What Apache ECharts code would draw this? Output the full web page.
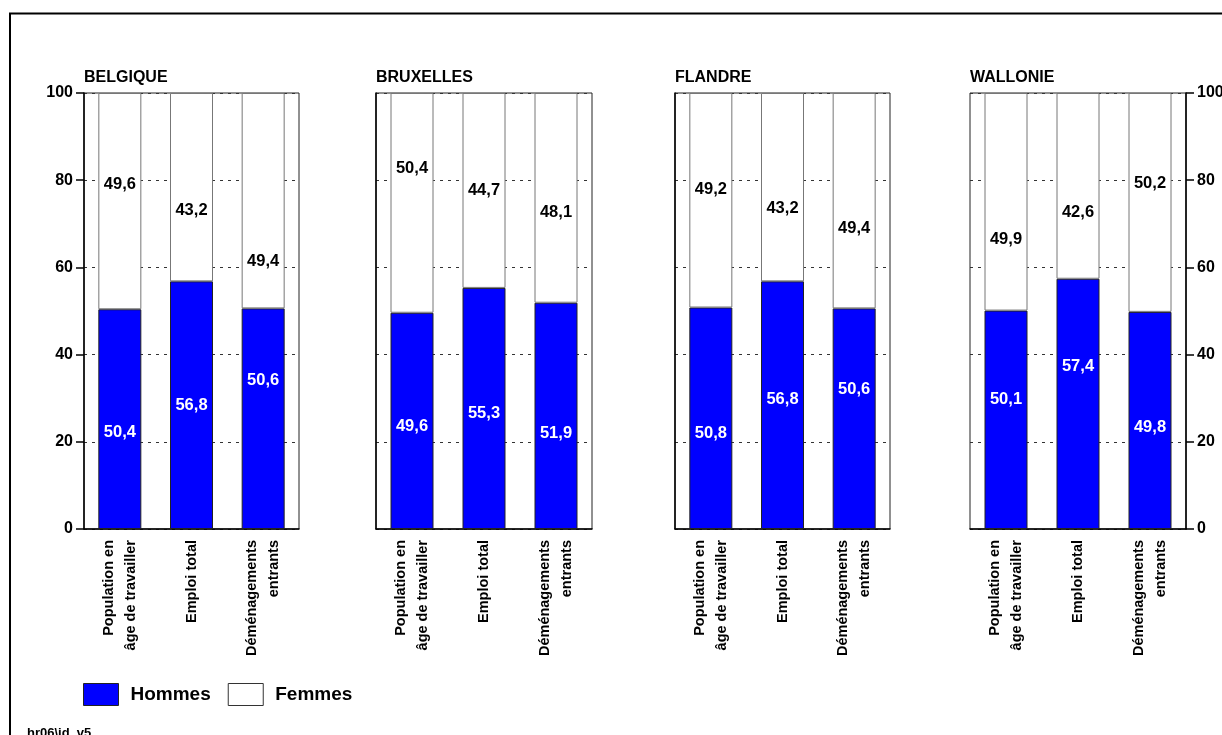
<!DOCTYPE html>
<html>
<head>
<meta charset="utf-8">
<script src="https://cdn.jsdelivr.net/npm/echarts@6/dist/echarts.min.js"></script>
<style>
  html, body { margin: 0; padding: 0; background: #fff; }
  #chart { width: 1222px; height: 735px; }
</style>
</head>
<body>
<div id="chart"></div>
<script>
// Parts des hommes et des femmes (%), par région
const regions = ['BELGIQUE', 'BRUXELLES', 'FLANDRE', 'WALLONIE'];
const categories = ['Population en\nâge de travailler', 'Emploi total', 'Déménagements\nentrants'];

const hommesBelgique = [50.4, 56.8, 50.6];
const femmesBelgique = [49.6, 43.2, 49.4];
const hommesBruxelles = [49.6, 55.3, 51.9];
const femmesBruxelles = [50.4, 44.7, 48.1];
const hommesFlandre = [50.8, 56.8, 50.6];
const femmesFlandre = [49.2, 43.2, 49.4];
const hommesWallonie = [50.1, 57.4, 49.8];
const femmesWallonie = [49.9, 42.6, 50.2];

const yTicks = [0, 20, 40, 60, 80, 100];

// Height (in axis units) at which each value label sits inside its bar
const labelLevelHommes = [[22.1, 28.3, 34.0], [23.6, 26.6, 21.9], [21.8, 29.8, 32.1], [29.7, 37.2, 23.2]];
const labelLevelFemmes = [[79.1, 73.0, 61.3], [82.7, 77.6, 72.7], [77.9, 73.6, 69.0], [66.5, 72.6, 79.3]];

const hommesByRegion = [hommesBelgique, hommesBruxelles, hommesFlandre, hommesWallonie];
const femmesByRegion = [femmesBelgique, femmesBruxelles, femmesFlandre, femmesWallonie];

const FONT = '"Liberation Sans", Arial, sans-serif';
const BLUE = '#0000ff';

// Panel boxes (pixels)
const panelLeft = [84, 376, 675, 970];
const panelWidth = [215, 216, 215, 216];
const panelTop = 93;
const panelHeight = 436;

const fmt = v => v.toFixed(1).replace('.', ',');

const grids = [], xAxes = [], yAxes = [], series = [], titles = [];

regions.forEach((name, p) => {
  grids.push({
    left: panelLeft[p], top: panelTop, width: panelWidth[p], height: panelHeight,
    containLabel: false, outerBoundsMode: 'none',
    show: true, borderColor: '#222', borderWidth: 1, backgroundColor: 'transparent'
  });
  titles.push({
    text: name, left: panelLeft[p], top: 70, padding: 0,
    textStyle: { fontFamily: FONT, fontSize: 16, fontWeight: 'bold', color: '#000' }
  });
  xAxes.push({
    type: 'category', gridIndex: p, data: categories,
    axisLine: { show: true, lineStyle: { color: '#000', width: 1.5 } },
    axisTick: { show: false },
    axisLabel: {
      interval: 0, rotate: 90, margin: 11,
      fontFamily: FONT, fontSize: 14.5, fontWeight: 'bold', color: '#000', lineHeight: 22,
      padding: [0, 0, 0, 0]
    }
  });
  const isLeft = p === 0, isRight = p === regions.length - 1;
  yAxes.push({
    type: 'value', gridIndex: p, min: 0, max: 100, interval: 20,
    position: isRight ? 'right' : 'left',
    axisLine: { show: true, lineStyle: { color: '#000', width: 1.5 } },
    axisTick: { show: isLeft || isRight, length: 8, lineStyle: { color: '#000', width: 1.5 } },
    axisLabel: {
      show: isLeft || isRight, margin: 11,
      fontFamily: FONT, fontSize: 16, fontWeight: 'bold', color: '#000',
      formatter: v => (yTicks.includes(v) ? String(v) : '')
    },
    splitLine: { show: true, lineStyle: { color: '#333', width: 1, type: [3, 5] } }
  });

  const h = hommesByRegion[p], f = femmesByRegion[p];
  series.push({
    name: 'Hommes', type: 'bar', stack: 'r' + p,
    xAxisIndex: p, yAxisIndex: p, barWidth: 43,
    itemStyle: { color: BLUE, borderColor: '#222', borderWidth: 1 },
    data: h.map((v, i) => ({
      value: v,
      label: {
        show: true,
        position: ['50%', ((v - labelLevelHommes[p][i]) / v * 100) + '%'],
        align: 'center', verticalAlign: 'middle',
        formatter: () => fmt(v),
        fontFamily: FONT, fontSize: 16.5, fontWeight: 'bold', color: '#fff'
      }
    }))
  });
  series.push({
    name: 'Femmes', type: 'bar', stack: 'r' + p,
    xAxisIndex: p, yAxisIndex: p, barWidth: 43,
    itemStyle: { color: '#fff', borderColor: '#777', borderWidth: 1 },
    data: f.map((v, i) => ({
      value: v,
      label: {
        show: true,
        position: ['50%', ((h[i] + v - labelLevelFemmes[p][i]) / v * 100) + '%'],
        align: 'center', verticalAlign: 'middle',
        formatter: () => fmt(v),
        fontFamily: FONT, fontSize: 16.5, fontWeight: 'bold', color: '#000'
      }
    }))
  });
});

const chart = echarts.init(document.getElementById('chart'), null, { renderer: 'canvas' });
chart.setOption({
  animation: false,
  backgroundColor: '#fff',
  title: titles,
  grid: grids,
  xAxis: xAxes,
  yAxis: yAxes,
  series: series,
  legend: {
    data: [
      { name: 'Hommes', itemStyle: { color: BLUE, borderColor: '#222', borderWidth: 1 } },
      { name: 'Femmes', itemStyle: { color: '#fff', borderColor: '#333', borderWidth: 1 } }
    ],
    left: 83, top: 683, padding: 0, icon: 'rect', itemWidth: 35, itemHeight: 22, itemGap: 17,
    selectedMode: false,
    textStyle: { fontFamily: FONT, fontSize: 19, fontWeight: 'bold', color: '#000', padding: [0, 0, 0, 7] }
  },
  graphic: [
    {
      type: 'rect', silent: true, z: -1,
      shape: { x: 10, y: 13.5, width: 1300, height: 800 },
      style: { fill: 'none', stroke: '#000', lineWidth: 2 }
    },
    {
      type: 'text', left: 27, top: 727, silent: true,
      style: { text: 'hr06\\id_v5', fontFamily: FONT, fontSize: 13, fontWeight: 'bold', fill: '#000' }
    }
  ]
});
</script>
</body>
</html>
